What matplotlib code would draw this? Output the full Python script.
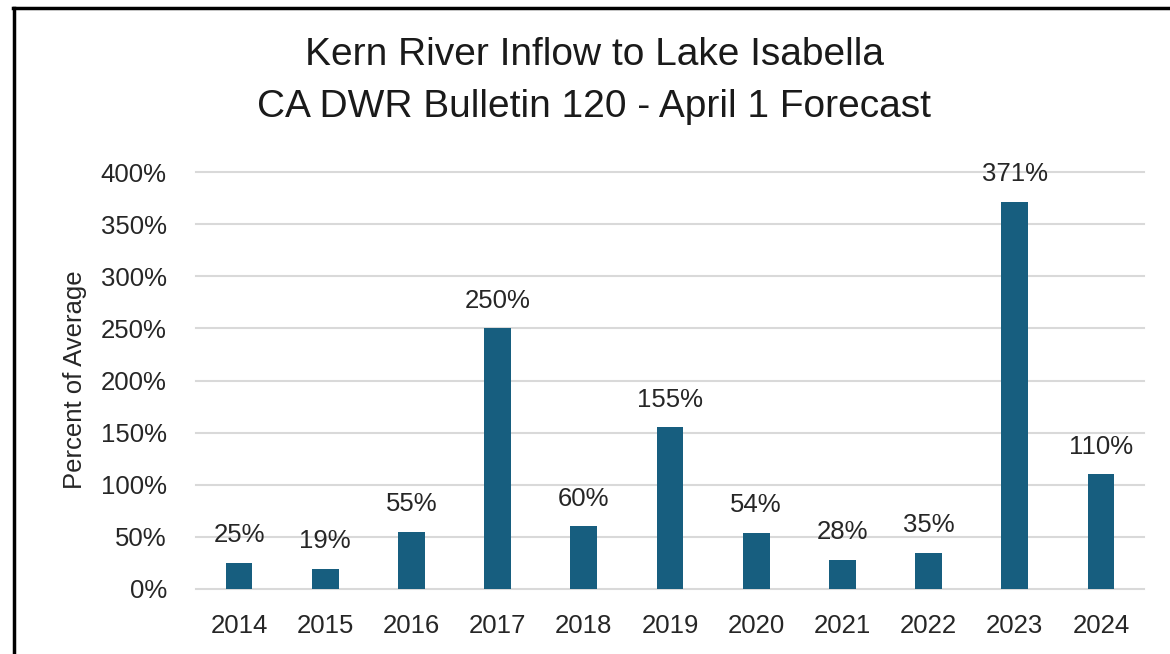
import matplotlib
matplotlib.use("Agg")
import matplotlib.pyplot as plt
from matplotlib.lines import Line2D
from matplotlib.ticker import FuncFormatter

years = ["2014", "2015", "2016", "2017", "2018", "2019", "2020", "2021", "2022", "2023", "2024"]
percent = [25, 19, 55, 250, 60, 155, 54, 28, 35, 371, 110]
yticks = [0, 50, 100, 150, 200, 250, 300, 350, 400]

plt.rcParams['font.family'] = ['Liberation Sans', 'DejaVu Sans']

fig = plt.figure(figsize=(11.7, 6.54), dpi=100)
ax = fig.add_axes([196/1170, 1-589/654, (1144-196)/1170, (589-172)/654])

bar_color = '#175e7f'
text_color = '#262626'
fs = 18.5
x = range(len(years))
ax.bar(x, percent, width=0.31, color=bar_color, zorder=3)
for xi, v in zip(x, percent):
    ax.annotate(f"{v}%", xy=(xi, v), xytext=(0, 20), textcoords='offset points',
                ha='center', va='center', fontsize=fs, color=text_color)

ax.set_ylim(0, 400)
ax.set_xlim(-0.5, len(years) - 0.5)
ax.set_yticks(yticks)
ax.yaxis.set_major_formatter(FuncFormatter(lambda v, p: f"{int(v)}%"))
ax.set_xticks(list(x))
ax.set_xticklabels(years)
ax.tick_params(axis='both', length=0, labelsize=fs, colors=text_color)
ax.tick_params(axis='y', pad=21)
ax.tick_params(axis='x', pad=18)
ax.grid(axis='y', color='#d9d9d9', linewidth=1.5, zorder=0)
for gl in ax.get_ygridlines():
    gl.set_clip_on(False)
for s in ax.spines.values():
    s.set_visible(False)

fig.text(75/1170, 1-380/654, "Percent of Average", rotation=90, ha='center', va='center',
         fontsize=fs, color=text_color)

fig.text(0.508, 1-55/654, "Kern River Inflow to Lake Isabella", ha='center', va='center',
         fontsize=28, color='#1a1a1a')
fig.text(0.508, 1-107/654, "CA DWR Bulletin 120 - April 1 Forecast", ha='center', va='center',
         fontsize=28, color='#1a1a1a')

fig.add_artist(Line2D([14/1170, 14/1170], [0, 1-8/654], transform=fig.transFigure, color='black', linewidth=2.5))
fig.add_artist(Line2D([13/1170, 1], [1-8/654, 1-8/654], transform=fig.transFigure, color='black', linewidth=2.5))

fig.savefig("out.png", dpi=100, facecolor='white')
